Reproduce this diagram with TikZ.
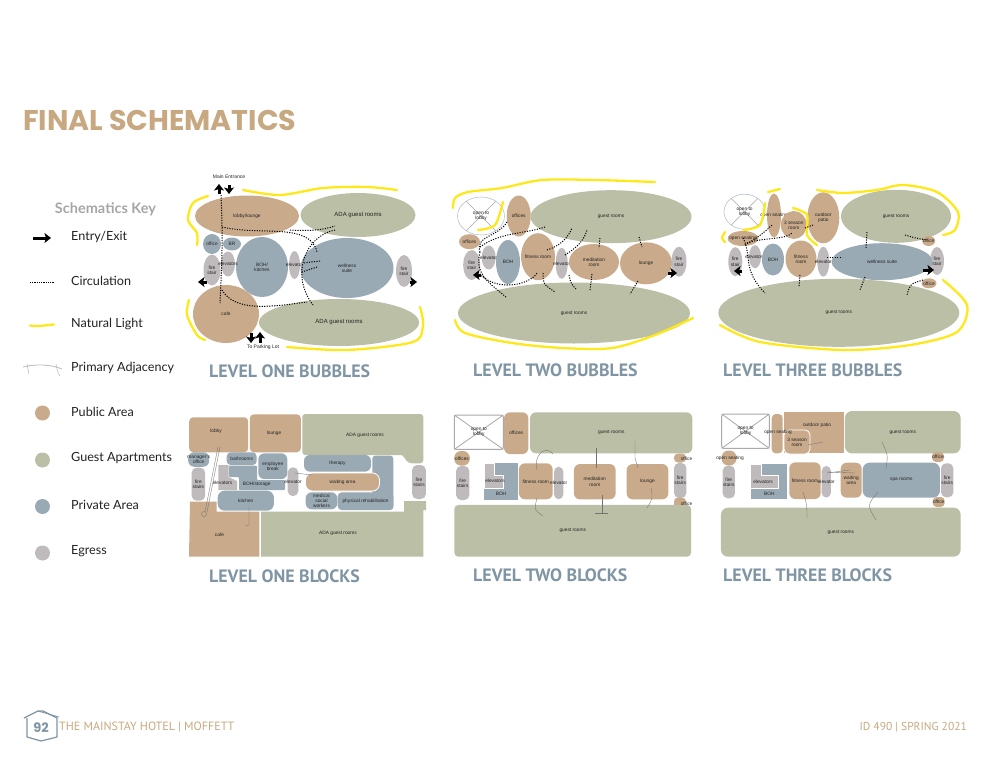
\documentclass[tikz,border=0pt]{standalone}
\usepackage{fontspec}
\setmainfont{Liberation Sans}
\newfontfamily\titlefont{Poppins}
\newfontfamily\headfont{PT Sans}
\newfontfamily\keyfont{Lato}
\usetikzlibrary{arrows.meta, calc, shapes.geometric}

\definecolor{pubcol}{HTML}{C9AB8B}
\definecolor{guestcol}{HTML}{BBBFA5}
\definecolor{privcol}{HTML}{9AAAB4}
\definecolor{egrcol}{HTML}{BFBABB}
\definecolor{headcol}{HTML}{7F95A3}
\definecolor{tancol}{HTML}{C8A880}
\definecolor{lightcol}{HTML}{FFE81A}
\definecolor{inkcol}{HTML}{222222}

\tikzset{
  every label/.style={font=\fontsize{4.8}{5.3}\selectfont, text=inkcol, align=center, inner sep=0pt},
  bub/.style={ellipse, inner sep=0pt, outer sep=0pt, draw=none},
  pubell/.style={bub, fill=pubcol},
  guestell/.style={bub, fill=guestcol},
  privell/.style={bub, fill=privcol},
  egrell/.style={bub, fill=egrcol},
  openell/.style={bub, fill=white, draw=privcol!70, line width=.6pt},
  blk/.style={rectangle, rounded corners=4pt, inner sep=0pt, outer sep=0pt, draw=none},
  pubblk/.style={blk, fill=pubcol},
  guestblk/.style={blk, fill=guestcol},
  privblk/.style={blk, fill=privcol},
  egrblk/.style={blk, rounded corners=5pt, fill=egrcol},
  openblk/.style={blk, rounded corners=2pt, fill=white, draw=egrcol!90!black, line width=1pt},
  xline/.style={draw=egrcol!90!black, line width=.6pt},
  roomtxt/.style={font=\fontsize{4.8}{5.3}\selectfont, text=inkcol, align=center, inner sep=0pt},
  keytxt/.style={font=\keyfont\fontsize{12.6}{14}\selectfont, text=inkcol, anchor=west, inner sep=0pt},
  headtxt/.style={font=\headfont\bfseries\fontsize{17.9}{19}\selectfont, text=headcol, anchor=west, inner sep=0pt},
  foottxt/.style={font=\headfont\fontsize{11.5}{13}\selectfont, text=tancol, inner sep=0pt},
  dot/.style={circle, minimum size=15pt, inner sep=0pt, outer sep=0pt},
  exitarr/.style={-{Stealth[length=6.5pt, width=10pt, inset=1.5pt]}, line width=3pt, black},
  circ/.style={line width=1pt, dash pattern=on 1.1pt off 1.4pt, black},
  sun/.style={line width=2.3pt, lightcol, line cap=round},
  adj/.style={line width=.35pt, black!55}
}

\begin{document}
\begin{tikzpicture}[x=1pt, y=-1pt, >=stealth]
  \useasboundingbox (0,0) rectangle (990,765);

  % page title
  \node[font=\titlefont\bfseries\fontsize{28.5}{30}\selectfont, text=tancol, anchor=west, inner sep=0pt] (Title) at (23,120) {FINAL SCHEMATICS};

  % key
  \node[font=\keyfont\bfseries\fontsize{14.5}{16}\selectfont, text=black!35, inner sep=0pt] (KeyHead) at (105.5,209.5) {Schematics Key};
  \node[keytxt] (KeyEntry) at (71,236.5) {Entry/Exit};
  \node[keytxt] (KeyCirc) at (71,280.5) {Circulation};
  \node[keytxt] (KeyLight) at (71,324) {Natural Light};
  \node[keytxt] (KeyAdj) at (71,368) {Primary Adjacency};
  \node[keytxt] (KeyPub) at (71,411.5) {Public Area};
  \node[keytxt] (KeyGuest) at (71,458) {Guest Apartments};
  \node[keytxt] (KeyPriv) at (71,504.5) {Private Area};
  \node[keytxt] (KeyEgr) at (71,551) {Egress};
  \node[dot, fill=pubcol] (DotPub) at (42.5,413) {};
  \node[dot, fill=guestcol] (DotGuest) at (42.5,460) {};
  \node[dot, fill=privcol] (DotPriv) at (42.5,506.5) {};
  \node[dot, fill=egrcol] (DotEgr) at (42.5,553) {};
  \coordinate (ka) at (33,238); \coordinate (kb) at (51,238);
  \draw[exitarr] (ka) -- (kb);
  \coordinate (kc) at (30,282.5); \coordinate (kd) at (55,282.5);
  \draw[line width=.7pt, dash pattern=on .9pt off .9pt] (kc) -- (kd);
  \draw[sun] (30,325.5) .. controls (40,327) and (45,325) .. (54,324.5);
  \draw[adj, black!25, line width=.9pt] (23,367) .. controls (35,364) and (50,364) .. (62,369);
  \draw[adj, black!25, line width=.6pt] (27,364) -- (29,374);
  \draw[adj, black!25, line width=.6pt] (56,364) .. controls (57,368) and (57,372) .. (60,376);

  % ---- level one bubbles ----
  \node[pubell, minimum width=104pt, minimum height=41pt, label=center:{lobby/lounge}] (B1lobby) at (247,216) {};
  \node[guestell, minimum width=115pt, minimum height=44pt, label={[font=\fontsize{6}{7}\selectfont]center:{ADA guest rooms}}] (B1adaT) at (358,215) {};
  \node[privell, minimum width=18pt, minimum height=20pt, label=center:{office}] (B1office) at (212,244) {};
  \node[privell, minimum width=18pt, minimum height=13pt, label=center:{BR}] (B1br) at (232,244) {};
  \node[privell, minimum width=52pt, minimum height=60pt, label=center:{BOH/\\kitchen}] (B1boh) at (262,267) {};
  \node[egrell, minimum width=11pt, minimum height=28pt, label=center:{elevator}] (B1elev) at (294.5,265) {};
  \node[privell, minimum width=93pt, minimum height=60pt, label=center:{wellness\\suite}] (B1well) at (347,268) {};
  \node[egrell, minimum width=17pt, minimum height=31pt, label=center:{fire\\stair}] (B1fireL) at (212,270) {};
  \node[egrell, minimum width=14pt, minimum height=25pt, label=center:{elevators}] (B1elevs) at (228,264) {};
  \node[egrell, minimum width=16pt, minimum height=32pt, label=center:{fire\\stair}] (B1fireR) at (404,271) {};
  \node[pubell, minimum width=66pt, minimum height=58pt, label=center:{cafe}] (B1cafe) at (226,314) {};
  \node[guestell, minimum width=160pt, minimum height=47pt, label={[font=\fontsize{6}{7}\selectfont]center:{ADA guest rooms}}] (B1adaB) at (339,322.5) {};

  % natural light, level one
  \draw[sun] plot[smooth] coordinates {(243,190) (280,195) (323,188) (367,187) (397,190)};
  \draw[sun] plot[smooth] coordinates {(208,196) (193,203) (188,220) (197,233) (197,245)};
  \draw[sun] plot[smooth] coordinates {(189,300) (187,315) (197,335) (205,340)};
  \draw[sun] plot[smooth] coordinates {(287,347) (347,350) (413,342) (423,325) (420,307)};

  % circulation, level one
  \coordinate (c1a) at (221,195); \coordinate (c1b) at (220,303);
  \draw[circ] (c1a) .. controls (223,240) and (222,260) .. (c1b);
  \coordinate (c1c) at (222,227); \coordinate (c1d) at (317,252);
  \draw[circ] (c1c) .. controls (260,236) and (310,222) .. (c1d);
  \coordinate (c1e) at (290,230); \coordinate (c1f) at (335,226);
  \draw[circ] (c1e) .. controls (305,231) and (320,231) .. (c1f);
  \coordinate (c1g) at (335,230); \coordinate (c1h) at (313,305);
  \draw[circ] (c1g) .. controls (305,236) and (290,275) .. (c1h);
  \coordinate (c1i) at (320,261); \coordinate (c1j) at (303,263);
  \draw[circ] (c1i) -- (c1j);
  \coordinate (c1k) at (317,267); \coordinate (c1l) at (302,272);
  \draw[circ] (c1k) -- (c1l);
  \coordinate (c1m) at (222,290); \coordinate (c1n) at (307,302);
  \draw[circ] (c1m) .. controls (235,312) and (270,307) .. (c1n);

  % doors, level one
  \node[roomtxt, font=\fontsize{5}{5.6}\selectfont] (B1main) at (229,176.5) {Main Entrance};
  \node[roomtxt, font=\fontsize{5}{5.6}\selectfont] (B1park) at (263,347.5) {To Parking Lot};
  \coordinate (e1a) at (219,194); \coordinate (e1b) at (219,184);
  \draw[exitarr] (e1a) -- (e1b);
  \coordinate (e1c) at (229,185); \coordinate (e1d) at (229,194);
  \draw[exitarr] (e1c) -- (e1d);
  \coordinate (e1e) at (207,282); \coordinate (e1f) at (198,282);
  \draw[exitarr] (e1e) -- (e1f);
  \coordinate (e1g) at (410,282); \coordinate (e1h) at (417,282);
  \draw[exitarr] (e1g) -- (e1h);
  \coordinate (e1i) at (251,333); \coordinate (e1j) at (251,343);
  \draw[exitarr] (e1i) -- (e1j);
  \coordinate (e1k) at (260,343); \coordinate (e1l) at (260,332);
  \draw[exitarr] (e1k) -- (e1l);

  % ---- level two bubbles ----
  \node[openell, minimum width=47pt, minimum height=38pt] (B2open) at (481,216) {};
  \draw[xline] (B2open.45) -- (B2open.225) (B2open.135) -- (B2open.-45);
  \node[roomtxt] (B2openT) at (B2open) {open to\\lobby};
  \node[pubell, minimum width=24pt, minimum height=41pt, label=center:{offices}] (B2off) at (518.7,216) {};
  \node[guestell, minimum width=161pt, minimum height=53pt, label=center:{guest rooms}] (B2gstT) at (611,216.7) {};
  \node[pubell, minimum width=21pt, minimum height=15pt, label=center:{offices}] (B2offL) at (469.5,241.7) {};
  \node[egrell, minimum width=17pt, minimum height=30pt, label=center:{fire\\stair}] (B2fireL) at (471.7,265) {};
  \node[egrell, minimum width=14pt, minimum height=24pt, label=center:{elevator}] (B2elevL) at (488.7,257.5) {};
  \node[privell, minimum width=24pt, minimum height=44pt, label=center:{BOH}] (B2boh) at (508,262) {};
  \node[pubell, minimum width=34pt, minimum height=47pt, label=center:{fitness room}] (B2fit) at (538,256.7) {};
  \node[egrell, minimum width=12pt, minimum height=31pt, label=center:{elevator}] (B2elev) at (561.7,263.3) {};
  \node[pubell, minimum width=50pt, minimum height=36pt, label=center:{meditation\\room}] (B2med) at (594,262) {};
  \node[pubell, minimum width=52pt, minimum height=42pt, label=center:{lounge}] (B2lng) at (646,263.3) {};
  \node[egrell, minimum width=15pt, minimum height=30pt, label=center:{fire\\stair}] (B2fireR) at (679,261.7) {};
  \node[guestell, minimum width=232pt, minimum height=61pt, label=center:{guest rooms}] (B2gstB) at (574,313) {};

  % natural light, level two
  \draw[sun] plot[smooth] coordinates {(453,208) (455,198) (468,192) (502,188) (542,180) (595,180) (655,182)};
  \draw[sun] plot[smooth] coordinates {(478,230) (495,225) (503,202)};
  \draw[sun] plot[smooth] coordinates {(455,320) (465,333) (512,343) (562,348) (612,348) (655,335) (693,318)};

  % circulation, level two
  \coordinate (c2a) at (507,222); \coordinate (c2b) at (480,252);
  \draw[circ] (c2a) .. controls (497,238) and (475,235) .. (c2b);
  \coordinate (c2c) at (480,252); \coordinate (c2d) at (507,298);
  \draw[circ] (c2c) .. controls (474,275) and (490,283) .. (c2d);
  \coordinate (c2e) at (480,247); \coordinate (c2f) at (545,227);
  \draw[circ] (c2e) .. controls (500,232) and (525,234) .. (c2f);
  \coordinate (c2g) at (478,272); \coordinate (c2h) at (537,273);
  \draw[circ] (c2g) .. controls (495,293) and (530,285) .. (c2h);
  \coordinate (c2i) at (547,250); \coordinate (c2j) at (572,228);
  \draw[circ] (c2i) .. controls (560,246) and (568,238) .. (c2j);
  \coordinate (c2k) at (565,255); \coordinate (c2l) at (587,230);
  \draw[circ] (c2k) .. controls (578,247) and (584,240) .. (c2l);
  \coordinate (c2m) at (600,238); \coordinate (c2n) at (599,248);
  \draw[circ] (c2m) -- (c2n);
  \coordinate (c2o) at (639,237); \coordinate (c2p) at (642,247);
  \draw[circ] (c2o) -- (c2p);
  \coordinate (c2q) at (543,273); \coordinate (c2r) at (555,292);
  \draw[circ] (c2q) .. controls (543,284) .. (c2r);
  \coordinate (c2s) at (569,275); \coordinate (c2t) at (577,290);
  \draw[circ] (c2s) .. controls (571,284) .. (c2t);
  \coordinate (c2u) at (592,274); \coordinate (c2v) at (590,290);
  \draw[circ] (c2u) -- (c2v);
  \coordinate (c2w) at (638,281); \coordinate (c2x) at (630,294);
  \draw[circ] (c2w) -- (c2x);

  % doors, level two
  \coordinate (e2a) at (481,275); \coordinate (e2b) at (473,275);
  \draw[exitarr] (e2a) -- (e2b);
  \coordinate (e2c) at (668,273); \coordinate (e2d) at (677,273);
  \draw[exitarr] (e2c) -- (e2d);

  % ---- level three bubbles ----
  \node[openell, minimum width=41pt, minimum height=35pt] (B3open) at (744.5,211.7) {};
  \draw[xline] (B3open.45) -- (B3open.225) (B3open.135) -- (B3open.-45);
  \node[roomtxt] (B3openT) at (B3open) {open to\\lobby};
  \node[pubell, minimum width=14pt, minimum height=44pt, label=center:{open seating}] (B3seat) at (774,215.5) {};
  \node[pubell, minimum width=26pt, minimum height=28pt, label=center:{3 season\\room}] (B3sea) at (793.8,225) {};
  \node[pubell, minimum width=32pt, minimum height=51pt, label=center:{outdoor\\patio}] (B3pat) at (823.3,217.8) {};
  \node[guestell, minimum width=110pt, minimum height=53pt, label=center:{guest rooms}] (B3gstT) at (896,216.3) {};
  \node[pubell, minimum width=31pt, minimum height=15pt, label=center:{open seating}] (B3seatL) at (743,238.5) {};
  \node[pubell, minimum width=13pt, minimum height=10pt, label=center:{office}] (B3offT) at (928.7,241) {};
  \node[egrell, minimum width=14pt, minimum height=29pt, label=center:{fire\\stair}] (B3fireL) at (735.3,261.7) {};
  \node[egrell, minimum width=12pt, minimum height=23pt, label=center:{elevators}] (B3elevs) at (755,256.7) {};
  \node[privell, minimum width=22pt, minimum height=32pt, label=center:{BOH}] (B3boh) at (773,259.5) {};
  \node[pubell, minimum width=31pt, minimum height=37pt, label=center:{fitness\\room}] (B3fit) at (801,259) {};
  \node[egrell, minimum width=12pt, minimum height=30pt, label=center:{elevator}] (B3elev) at (823.3,261.7) {};
  \node[egrell, minimum width=14pt, minimum height=28pt, label=center:{fire\\stair}] (B3fireR) at (937,261) {};
  \node[privell, minimum width=101pt, minimum height=37pt, label=center:{wellness suite}] (B3well) at (882,261.7) {};
  \node[pubell, minimum width=15pt, minimum height=10pt, label=center:{office}] (B3offB) at (929,283.3) {};
  \node[guestell, minimum width=241pt, minimum height=68pt, label=center:{guest rooms}] (B3gstB) at (838.8,312.8) {};

  % natural light, level three
  \draw[sun] (768,192) -- (780,189);
  \draw[sun] plot[smooth] coordinates {(817,190) (843,193) (877,190) (903,185) (937,192) (958,212) (955,230) (943,235)};
  \draw[sun] plot[smooth] coordinates {(743,230) (760,225) (765,203)};
  \draw[sun] plot[smooth] coordinates {(793,208) (807,215) (807,235) (817,245)};
  \draw[sun] plot[smooth] coordinates {(725,232) (722,238) (725,242)};
  \draw[sun] plot[smooth] coordinates {(943,280) (967,305) (957,332) (910,345) (843,350) (760,342) (720,325)};

  % circulation, level three
  \coordinate (c3a) at (745,245); \coordinate (c3b) at (772,225);
  \draw[circ] (c3a) .. controls (757,238) and (765,232) .. (c3b);
  \coordinate (c3c) at (747,243); \coordinate (c3d) at (792,233);
  \draw[circ] (c3c) .. controls (765,237) and (785,240) .. (c3d);
  \coordinate (c3e) at (743,238); \coordinate (c3f) at (765,293);
  \draw[circ] (c3e) .. controls (752,255) and (742,270) .. (c3f);
  \coordinate (c3g) at (805,228); \coordinate (c3h) at (813,225);
  \draw[circ] (c3g) -- (c3h);
  \coordinate (c3i) at (867,232); \coordinate (c3j) at (866,248);
  \draw[circ] (c3i) -- (c3j);
  \coordinate (c3k) at (827,257); \coordinate (c3l) at (842,257);
  \draw[circ] (c3k) -- (c3l);
  \coordinate (c3m) at (905,235); \coordinate (c3n) at (927,240);
  \draw[circ] (c3m) .. controls (915,238) .. (c3n);
  \coordinate (c3o) at (800,275); \coordinate (c3p) at (799,287);
  \draw[circ] (c3o) -- (c3p);
  \coordinate (c3q) at (865,277); \coordinate (c3r) at (860,290);
  \draw[circ] (c3q) -- (c3r);
  \coordinate (c3s) at (923,280); \coordinate (c3t) at (907,295);
  \draw[circ] (c3s) .. controls (910,284) .. (c3t);

  % doors, level three
  \coordinate (e3a) at (742,271); \coordinate (e3b) at (734,271);
  \draw[exitarr] (e3a) -- (e3b);
  \coordinate (e3c) at (923,270); \coordinate (e3d) at (934,270);
  \draw[exitarr] (e3c) -- (e3d);

  % ---- level one blocks ----
  \node[pubblk, minimum width=59pt, minimum height=35pt] (K1lobby) at (218.7,434.8) {};
  \node[roomtxt] (K1lobbyT) at (216,431.5) {lobby};
  \node[pubblk, minimum width=51pt, minimum height=38pt] (K1lng) at (275.3,433.3) {};
  \node[roomtxt] (K1lngT) at (274,433.5) {lounge};
  \fill[guestcol, rounded corners=3pt] (302.3,414) -- (423.3,414) -- (423.3,463.3) -- (409,463.3) -- (404,458) -- (404,455) -- (302.3,455) -- cycle;
  \node[roomtxt] (K1adaT) at (365,435.5) {ADA guest rooms};
  \node[privblk, rounded corners=6pt, minimum width=21pt, minimum height=14.5pt, label=center:{manager's\\office}] (K1mgr) at (198.7,459.5) {};
  \node[egrblk, minimum width=13.5pt, minimum height=33pt, label=center:{fire\\stairs}] (K1fireL) at (198.4,484.2) {};
  \fill[egrcol] (218.3,465) -- (228.5,465) -- (228.5,477) -- (237,481) -- (237,490) -- (218.3,490) -- cycle;
  \node[roomtxt] (K1elevs) at (222.5,483) {elevators};
  \node[privblk, minimum width=30pt, minimum height=12.7pt, label=center:{bathrooms}] (K1bath) at (241.7,458.7) {};
  \fill[privcol, rounded corners=1pt] (229,465.7) -- (257,465.7) -- (257,480) -- (285,480) -- (285,490) -- (239,490) -- (239,477) -- (229,477) -- cycle;
  \node[roomtxt] (K1boh) at (256.7,484.5) {BOH/storage};
  \node[privblk, rounded corners=6pt, minimum width=29pt, minimum height=25.7pt, label=center:{employee\\break}] (K1emp) at (272.8,466.2) {};
  \node[egrblk, minimum width=10.6pt, minimum height=28.7pt, label=center:{elevator}] (K1elev) at (293,481.7) {};
  \node[privblk, rounded corners=7pt, minimum width=56.3pt, minimum height=20pt, label=center:{kitchen}] (K1kit) at (245.8,500.7) {};
  \fill[pubcol] (190,501.7) -- (216.7,501.7) -- (216.7,511.7) -- (259.3,511.7) -- (259.3,556.7) -- (189,556.7) -- cycle;
  \node[roomtxt] (K1cafe) at (219.5,534.5) {cafe};
  \fill[guestcol] (261,511.7) -- (404,511.7) -- (404,501) -- (426,501) -- (426,510) -- (423.3,510) -- (423.3,556.7) -- (261,556.7) -- cycle;
  \node[roomtxt] (K1adaB) at (338,533.5) {ADA guest rooms};
  \node[egrblk, minimum width=13.7pt, minimum height=34pt, label=center:{fire\\stairs}] (K1fireR) at (419,482) {};
  \node[privblk, rounded corners=6pt, minimum width=67pt, minimum height=16.7pt, label=center:{therapy}] (K1ther) at (337.5,463.3) {};
  \node[privblk, rounded corners=3pt, minimum width=21pt, minimum height=54.3pt] (K1prv) at (382.8,482.8) {};
  \node[pubblk, rounded corners=7pt, draw=white, line width=.8pt, minimum width=74pt, minimum height=18pt, label=center:{waiting area}] (K1wait) at (342.5,482) {};
  \node[privblk, rounded corners=6pt, minimum width=31.6pt, minimum height=17pt, label=center:{medical\\social\\workers}] (K1med) at (321.5,500.8) {};
  \node[privblk, minimum width=55.6pt, minimum height=17.7pt, label=center:{physical rehabilitation}] (K1phys) at (365.5,501.2) {};

  % adjacency, level one blocks
  \coordinate (a1a) at (218,447); \coordinate (a1b) at (205,512);
  \draw[adj] (a1a) -- (a1b);
  \coordinate (a1c) at (220,447); \coordinate (a1d) at (207,512);
  \draw[adj] (a1c) -- (a1d);
  \draw[adj] (204,514) circle (2.5);
  \coordinate (a1e) at (249,507); \coordinate (a1f) at (245,526);
  \draw[adj] (a1e) -- (249,525) -- (a1f);
  \coordinate (a1g) at (295,473); \coordinate (a1h) at (312,475);
  \draw[adj] (a1g) -- (a1h);

  % ---- level two blocks ----
  \node[openblk, minimum width=49pt, minimum height=34.3pt] (K2open) at (478.8,432.2) {};
  \draw[xline, line width=.8pt] (K2open.north west) -- (K2open.south east) (K2open.north east) -- (K2open.south west);
  \node[roomtxt] (K2openT) at (K2open) {open to\\lobby};
  \node[pubblk, rounded corners=6pt, minimum width=24.3pt, minimum height=41.7pt, label=center:{offices}] (K2off) at (516.2,433.2) {};
  \node[guestblk, rounded corners=6pt, minimum width=162.3pt, minimum height=41pt, label=center:{guest rooms}] (K2gstT) at (611.2,432.8) {};
  \node[pubblk, rounded corners=7pt, minimum width=15.7pt, minimum height=14.7pt, label=center:{offices}] (K2offL) at (462,458.3) {};
  \node[egrblk, minimum width=13.3pt, minimum height=34pt, label=center:{fire\\stairs}] (K2fireL) at (462.7,483) {};
  \node[privblk, rounded corners=0pt, minimum width=34pt, minimum height=36.7pt] (K2bohR) at (501.3,481.7) {};
  \draw[fill=egrcol, draw=white, line width=.8pt] (484.3,463.3) -- (494,463.3) -- (494,475.7) -- (503,475.7) -- (503,488.5) -- (484.3,488.5) -- cycle;
  \node[roomtxt] (K2elevs) at (495,481) {elevators};
  \node[roomtxt] (K2boh) at (501,493.5) {BOH};
  \node[pubblk, rounded corners=6pt, minimum width=33.7pt, minimum height=36pt, label=center:{fitness room}] (K2fit) at (535.8,481.3) {};
  \node[egrblk, minimum width=9.3pt, minimum height=32.6pt, label=center:{elevator}] (K2elev) at (558.7,483) {};
  \node[pubblk, rounded corners=6pt, minimum width=41.7pt, minimum height=35.3pt, label=center:{meditation\\room}] (K2med) at (594.8,481.7) {};
  \node[pubblk, rounded corners=6pt, minimum width=41.6pt, minimum height=35.3pt, label=center:{lounge}] (K2lng) at (647.5,481.7) {};
  \node[pubblk, rounded corners=4pt, minimum width=12pt, minimum height=9pt] (K2offT) at (680,458) {};
  \node[roomtxt] (K2offTT) at (686.5,459) {office};
  \node[egrblk, minimum width=12.3pt, minimum height=35pt, label=center:{fire\\stairs}] (K2fireR) at (680.2,480.5) {};
  \node[pubblk, rounded corners=4pt, minimum width=12pt, minimum height=11pt] (K2offB) at (680,503) {};
  \node[guestblk, rounded corners=4pt, minimum width=236.7pt, minimum height=51.7pt, label=center:{guest rooms}] (K2gstB) at (572.7,530.8) {};
  \node[roomtxt] (K2offBT) at (686.5,503.7) {office};

  % adjacency, level two blocks
  \coordinate (a2a) at (537,470); \coordinate (a2b) at (553,454);
  \draw[adj] (a2a) .. controls (533,456) and (545,444) .. (a2b);
  \coordinate (a2c) at (596,448); \coordinate (a2d) at (596,468);
  \draw[adj] (a2c) -- (a2d);
  \coordinate (a2e) at (635,441); \coordinate (a2f) at (638,468);
  \draw[adj] (a2e) -- (635,458) -- (a2f);
  \coordinate (a2g) at (537,498); \coordinate (a2h) at (543,516);
  \draw[adj] (a2g) .. controls (534,510) .. (a2h);
  \coordinate (a2i) at (601.7,495); \coordinate (a2j) at (601.7,513);
  \draw[adj] (a2i) -- (a2j);
  \coordinate (a2k) at (595,512.7); \coordinate (a2l) at (608,512.7);
  \draw[adj] (a2k) -- (a2l);
  \coordinate (a2m) at (651,488); \coordinate (a2n) at (647,508);
  \draw[adj] (a2m) .. controls (653,498) .. (a2n);

  % ---- level three blocks ----
  \node[openblk, minimum width=47.6pt, minimum height=34.3pt] (K3open) at (745.5,431.2) {};
  \draw[xline, line width=.8pt] (K3open.north west) -- (K3open.south east) (K3open.north east) -- (K3open.south west);
  \node[roomtxt] (K3openT) at (K3open) {open to\\lobby};
  \node[pubblk, rounded corners=4pt, minimum width=11pt, minimum height=39.3pt] (K3seat) at (777.2,433.7) {};
  \node[pubblk, rounded corners=0pt, minimum width=60pt, minimum height=41.6pt] (K3pat) at (814,432.5) {};
  \node[roomtxt] (K3patT) at (817,425.7) {outdoor patio};
  \node[pubblk, rounded corners=5pt, draw=white, line width=.8pt, minimum width=26pt, minimum height=24pt, label=center:{3 season\\room}] (K3sea) at (797,442) {};
  \node[roomtxt] (K3seatT) at (778,432) {open seating};
  \node[guestblk, rounded corners=7pt, minimum width=115.7pt, minimum height=42.3pt, label=center:{guest rooms}] (K3gstT) at (902.8,432.2) {};
  \node[pubblk, rounded corners=7pt, minimum width=15pt, minimum height=15pt] (K3seatL) at (729,458) {};
  \node[roomtxt] (K3seatLT) at (730,458) {open seating};
  \node[egrblk, minimum width=12.3pt, minimum height=32.6pt, label=center:{fire\\stairs}] (K3fireL) at (728.8,482) {};
  \node[privblk, rounded corners=0pt, minimum width=36.6pt, minimum height=35pt] (K3bohR) at (769,481.5) {};
  \draw[fill=egrcol, draw=white, line width=.8pt] (750.7,464) -- (761,464) -- (761,475) -- (778,475) -- (778,488.5) -- (750.7,488.5) -- cycle;
  \node[roomtxt] (K3elevs) at (763,481.7) {elevators};
  \node[roomtxt] (K3boh) at (769.3,493.5) {BOH};
  \node[pubblk, rounded corners=6pt, minimum width=31.4pt, minimum height=36.7pt, label=center:{fitness room}] (K3fit) at (805,480.7) {};
  \node[egrblk, minimum width=9.3pt, minimum height=31.7pt, label=center:{elevator}] (K3elev) at (826.3,481.8) {};
  \node[pubblk, rounded corners=6pt, minimum width=21pt, minimum height=35pt, label=center:{waiting\\area}] (K3wait) at (851.2,480.2) {};
  \node[privblk, rounded corners=7pt, minimum width=77.3pt, minimum height=35pt, label=center:{spa rooms}] (K3spa) at (901.3,480.2) {};
  \node[pubblk, rounded corners=4pt, minimum width=12pt, minimum height=10pt, label=center:{office}] (K3offT) at (938,457) {};
  \node[egrblk, minimum width=12.3pt, minimum height=34pt, label=center:{fire\\stairs}] (K3fireR) at (947.2,480.3) {};
  \node[pubblk, rounded corners=4pt, minimum width=12pt, minimum height=10pt, label=center:{office}] (K3offB) at (938.7,502) {};
  \node[guestblk, rounded corners=7pt, minimum width=239.7pt, minimum height=49pt, label=center:{guest rooms}] (K3gstB) at (840.8,532.2) {};

  % adjacency, level three blocks
  \coordinate (a3a) at (808,445); \coordinate (a3b) at (823,442);
  \draw[adj] (a3a) -- (a3b);
  \coordinate (a3c) at (827,473); \coordinate (a3d) at (850,470);
  \draw[adj] (a3c) -- (a3d);
  \coordinate (a3e) at (827,472); \coordinate (a3f) at (855,473);
  \draw[adj] (a3e) -- (a3f);
  \coordinate (a3g) at (882,442); \coordinate (a3h) at (886,468);
  \draw[adj] (a3g) .. controls (888,455) .. (a3h);
  \coordinate (a3i) at (803,492); \coordinate (a3j) at (807,518);
  \draw[adj] (a3i) .. controls (807,505) .. (a3j);
  \coordinate (a3k) at (878,492); \coordinate (a3l) at (876,520);
  \draw[adj] (a3k) .. controls (867,505) .. (a3l);

  % headings under the plans
  \node[headtxt] (H1a) at (209,371) {LEVEL ONE BUBBLES};
  \node[headtxt] (H2a) at (473,370.5) {LEVEL TWO BUBBLES};
  \node[headtxt] (H3a) at (723,370.5) {LEVEL THREE BUBBLES};
  \node[headtxt] (H1b) at (209,576) {LEVEL ONE BLOCKS};
  \node[headtxt] (H2b) at (473,575.5) {LEVEL TWO BLOCKS};
  \node[headtxt] (H3b) at (723,575.5) {LEVEL THREE BLOCKS};

  % footer
  \draw[headcol, line width=1.2pt, line join=round] (27,718) -- (27,737) -- (41,741) -- (57,737) -- (57,718) -- (43,711) -- (38,711) -- (24,718);
  \draw[headcol, line width=.8pt] (38,711) -- (59,717);
  \node[font=\titlefont\bfseries\fontsize{13}{14}\selectfont, text=headcol, inner sep=0pt] (PageNo) at (41,728) {92};
  \node[foottxt, font=\headfont\fontsize{12}{13}\selectfont, anchor=west] (FootL) at (59,727) {THE MAINSTAY HOTEL | MOFFETT};
  \node[foottxt, anchor=east] (FootR) at (967,727) {ID 490 | SPRING 2021};
\end{tikzpicture}
\end{document}
